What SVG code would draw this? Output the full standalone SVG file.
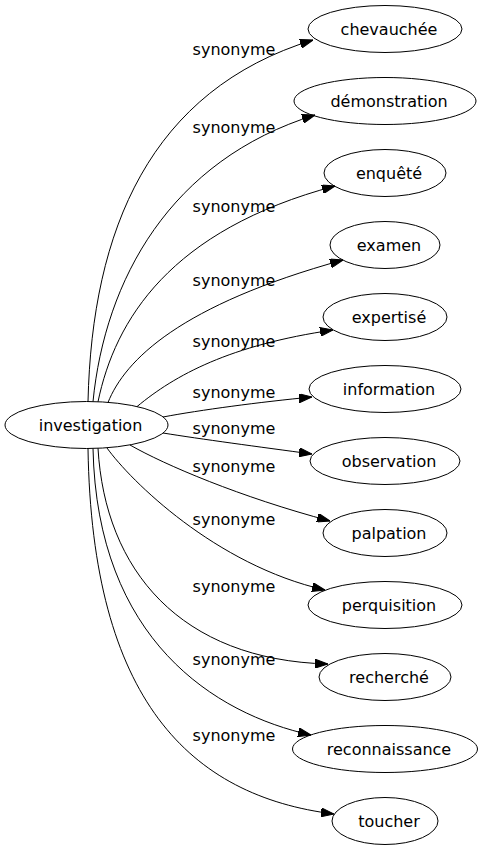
<svg xmlns="http://www.w3.org/2000/svg" width="483" height="851" viewBox="0 0 483 851">
<style>
.node ellipse{fill:none;stroke:#000;stroke-width:1}
.node text{font-family:"DejaVu Sans",sans-serif;font-size:16px;fill:#000;text-anchor:middle}
.edges path{fill:none;stroke:#000;stroke-width:1;marker-end:url(#arrow)}
.edges text{font-family:"DejaVu Sans",sans-serif;font-size:16px;fill:#000;text-anchor:middle}
</style>
<defs>
<marker id="arrow" viewBox="0 0 13 9" refX="13" refY="4.5" markerWidth="13" markerHeight="9" markerUnits="userSpaceOnUse" orient="auto">
<path d="M0,0 L13,4.5 L0,9 z" fill="#000" stroke="#000" stroke-width="1"/>
</marker>
</defs>
<rect width="483" height="851" fill="#fff"/>
<g class="edges" id="edges">
<path d="M88,401.5 C92,230 150,90 313,40"/>
<text x="234" y="55">synonyme</text>
<path d="M93,401.6 C105,280 170,160 315,115"/>
<text x="234" y="133">synonyme</text>
<path d="M98,401.8 C115,320 170,230 335,186"/>
<text x="234" y="212">synonyme</text>
<path d="M108,402.5 C125,360 180,305 343,260"/>
<text x="234" y="286">synonyme</text>
<path d="M137,406.6 C175,375 230,345 333,330"/>
<text x="234" y="347">synonyme</text>
<path d="M163,417 C200,410 260,402 312,397"/>
<text x="234" y="398">synonyme</text>
<path d="M163,433 C200,439 260,447 312,454"/>
<text x="234" y="434">synonyme</text>
<path d="M130,445 C165,465 240,497 330,521"/>
<text x="234" y="472">synonyme</text>
<path d="M107,448 C130,480 215,565 325,590"/>
<text x="234" y="525">synonyme</text>
<path d="M98,448.2 C105,570 180,660 328,664"/>
<text x="234" y="592">synonyme</text>
<path d="M93,448.4 C97,640 215,714 311,735"/>
<text x="234" y="665">synonyme</text>
<path d="M88,448.5 C92,700 190,796 334,814"/>
<text x="234" y="741">synonyme</text>
</g>
<g class="node" id="investigation">
<ellipse cx="86.5" cy="425" rx="81.5" ry="23.5"/>
<text x="90.5" y="431">investigation</text>
</g>
<g class="node" id="chevauchee">
<ellipse cx="385" cy="29" rx="77" ry="23.5"/>
<text x="389" y="35">chevauchée</text>
</g>
<g class="node" id="demonstration">
<ellipse cx="385" cy="101" rx="91" ry="23.5"/>
<text x="389" y="107">démonstration</text>
</g>
<g class="node" id="enquete">
<ellipse cx="385" cy="173" rx="61" ry="23.5"/>
<text x="389" y="179">enquêté</text>
</g>
<g class="node" id="examen">
<ellipse cx="385" cy="245" rx="55" ry="23.5"/>
<text x="389" y="251">examen</text>
</g>
<g class="node" id="expertise">
<ellipse cx="385" cy="317" rx="62" ry="23.5"/>
<text x="389" y="323">expertisé</text>
</g>
<g class="node" id="information">
<ellipse cx="385" cy="389" rx="76" ry="23.5"/>
<text x="389" y="395">information</text>
</g>
<g class="node" id="observation">
<ellipse cx="385" cy="461" rx="75" ry="23.5"/>
<text x="389" y="467">observation</text>
</g>
<g class="node" id="palpation">
<ellipse cx="385" cy="533" rx="62" ry="23.5"/>
<text x="389" y="539">palpation</text>
</g>
<g class="node" id="perquisition">
<ellipse cx="385" cy="605" rx="77" ry="23.5"/>
<text x="389" y="611">perquisition</text>
</g>
<g class="node" id="recherche">
<ellipse cx="385" cy="677" rx="66" ry="23.5"/>
<text x="389" y="683">recherché</text>
</g>
<g class="node" id="reconnaissance">
<ellipse cx="385" cy="749" rx="92.5" ry="23.5"/>
<text x="389" y="755">reconnaissance</text>
</g>
<g class="node" id="toucher">
<ellipse cx="385" cy="821" rx="53" ry="23.5"/>
<text x="389" y="827">toucher</text>
</g>
</svg>
